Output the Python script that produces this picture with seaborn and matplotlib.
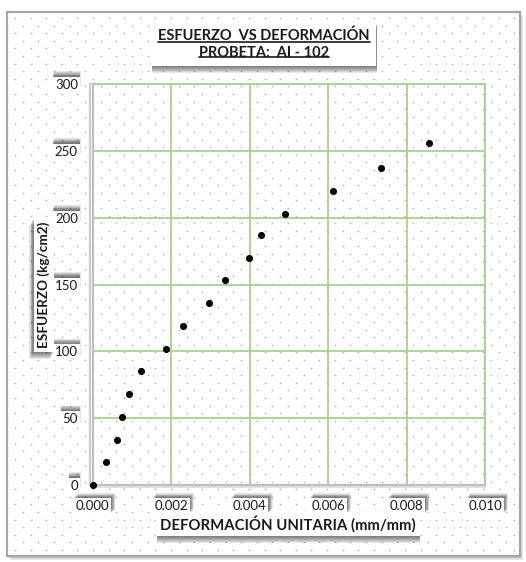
import numpy as np
import pandas as pd
import matplotlib
matplotlib.use("Agg")
import matplotlib.pyplot as plt
import matplotlib.patheffects as pe
from matplotlib.patches import Rectangle
from matplotlib.lines import Line2D
from matplotlib.ticker import MultipleLocator
import seaborn as sns

# Ensayo de compresión - probeta AI-102
deformacion = [0.0, 0.00034, 0.00063, 0.00075, 0.00094, 0.00124, 0.00186, 0.00231,
               0.00296, 0.00338, 0.00399, 0.00430, 0.00491, 0.00613, 0.00735, 0.00858]
esfuerzo = [0, 17, 34, 51, 68, 85, 102, 119, 136, 153, 170, 187, 203, 220, 237, 256]

x_ticks = [0.000, 0.002, 0.004, 0.006, 0.008, 0.010]
y_ticks = [0, 50, 100, 150, 200, 250, 300]

titulo_1 = "ESFUERZO  VS DEFORMACIÓN"
titulo_2 = "PROBETA:  AI - 102"
etiqueta_x = "DEFORMACIÓN UNITARIA (mm/mm)"
etiqueta_y = "ESFUERZO (kg/cm2)"

df = pd.DataFrame({"deformacion": deformacion, "esfuerzo": esfuerzo})

sns.set_theme(style="white")
plt.rcParams["font.family"] = ["Lato", "DejaVu Sans"]

W, H = 526, 562
fig = plt.figure(figsize=(W / 100, H / 100), dpi=100)
fig.patch.set_facecolor("white")


def px(x, y):
    """pixel (top-left origin) -> figure fraction"""
    return x / W, 1 - y / H


def soft_shadow(dx, dy, alpha=0.07, steps=7):
    effects = []
    for i in range(steps):
        effects.append(pe.SimplePatchShadow(offset=(dx * (i + 1) / steps, dy * (i + 1) / steps),
                                            shadow_rgbFace="black", alpha=alpha))
    return effects + [pe.Normal()]


# Chart area with dotted pattern fill
frame_l, frame_t, frame_r, frame_b = 7, 12, 520, 556
bg = fig.add_axes([frame_l / W, 1 - frame_b / H, (frame_r - frame_l) / W, (frame_b - frame_t) / H])
bg.set_xlim(frame_l, frame_r)
bg.set_ylim(frame_b, frame_t)
bg.axis("off")
bg.set_zorder(0)
frame = Rectangle((frame_l, frame_t), frame_r - frame_l, frame_b - frame_t,
                  facecolor="white", edgecolor="#a6a6a6", linewidth=1.6,
                  transform=bg.transData, clip_on=False)
frame.set_path_effects(soft_shadow(2, -3, alpha=0.08, steps=4))
bg.add_patch(frame)
rows = np.arange(frame_t + 6, frame_b - 3, 7.6)
dx_, dy_ = [], []
for i, ry in enumerate(rows):
    start = frame_l + 8 + (7.8 if i % 2 else 0)
    for cx in np.arange(start, frame_r - 3, 15.6):
        dx_.append(cx)
        dy_.append(ry)
bg.scatter(dx_, dy_, s=1.6, color="#b8b8b8", linewidths=0, zorder=1)

# Main plot area
x0, y0 = px(92.5, 485)
x1, y1 = px(485, 84)
ax = fig.add_axes([x0, y0, x1 - x0, y1 - y0])
ax.set_zorder(2)
ax.set_facecolor("none")

green = "#a9d18e"
ax.set_xlim(0, 0.010)
ax.set_ylim(0, 300)
ax.set_xticks(x_ticks)
ax.set_yticks(y_ticks)
ax.xaxis.set_minor_locator(MultipleLocator(0.0004))
ax.grid(True, which="major", color=green, linewidth=1.3)
ax.set_axisbelow(True)

sns.scatterplot(data=df, x="deformacion", y="esfuerzo", ax=ax, color="black",
                s=26, linewidth=0, zorder=5, clip_on=False)

for side in ["top", "right"]:
    ax.spines[side].set_color(green)
    ax.spines[side].set_linewidth(1.3)
for side in ["left", "bottom"]:
    ax.spines[side].set_color("#bfbfbf")
    ax.spines[side].set_linewidth(1.6)
ax.spines["left"].set_path_effects([pe.SimpleLineShadow(offset=(-1.5, 0), shadow_color="black", alpha=0.2),
                                    pe.Normal()])
ax.spines["bottom"].set_path_effects([pe.SimpleLineShadow(offset=(0, -1.5), shadow_color="black", alpha=0.12),
                                      pe.Normal()])

ax.tick_params(axis="both", which="major", direction="out", length=3.5, width=1,
               color="#bfbfbf", labelsize=9.5, labelcolor="#1a1a1a")
ax.tick_params(axis="x", which="minor", direction="inout", length=4, width=0.8, color="#bfbfbf")
ax.tick_params(axis="x", which="major", pad=7)
ax.tick_params(axis="y", which="major", pad=7)
ax.set_xticklabels([f"{v:.3f}" for v in x_ticks])
ax.set_yticklabels([str(v) for v in y_ticks])
ax.set_xlabel("")
ax.set_ylabel("")

for lab in ax.get_xticklabels():
    lab.set_bbox(dict(boxstyle="square,pad=0.15", facecolor="white", edgecolor="none"))
    lab.get_bbox_patch().set_path_effects(soft_shadow(3, 3, alpha=0.09))
for lab in ax.get_yticklabels():
    lab.set_bbox(dict(boxstyle="square,pad=0.15", facecolor="white", edgecolor="none"))
    lab.get_bbox_patch().set_path_effects(soft_shadow(0.5, 4, alpha=0.1))

# Title box
title_fs = 10.5
tx, ty = px(264, 44)
title = fig.text(tx, ty, titulo_1 + "\n" + titulo_2, ha="center", va="center",
                 fontsize=title_fs, fontweight="bold", color="#1a1a1a", linespacing=1.3,
                 zorder=10)
title.set_bbox(dict(boxstyle="square,pad=0.45", facecolor="white", edgecolor="none"))
title.get_bbox_patch().set_path_effects(soft_shadow(0.5, -5, alpha=0.09))

# Axis titles
lx, ly = px(288, 524)
xlab = fig.text(lx, ly, etiqueta_x, ha="center", va="center", fontsize=10.7,
                fontweight="bold", color="#1a1a1a", zorder=10)
xlab.set_bbox(dict(boxstyle="square,pad=0.25", facecolor="white", edgecolor="none"))
xlab.get_bbox_patch().set_path_effects(soft_shadow(0.5, -5, alpha=0.09))

vx, vy = px(44, 285)
ylab = fig.text(vx, vy, etiqueta_y, ha="center", va="center", rotation=90, fontsize=9.7,
                fontweight="bold", color="#1a1a1a", zorder=10)
ylab.set_bbox(dict(boxstyle="square,pad=0.3", facecolor="white", edgecolor="none"))
ylab.get_bbox_patch().set_path_effects(soft_shadow(-3, -5, alpha=0.09))

# Underline each title line
fig.canvas.draw()
renderer = fig.canvas.get_renderer()
bb = title.get_window_extent(renderer)
line_h = bb.height / 2
for k, txt in enumerate([titulo_1, titulo_2]):
    tmp = fig.text(0, 0, txt, fontsize=title_fs, fontweight="bold")
    w = tmp.get_window_extent(renderer).width
    tmp.remove()
    cx = (bb.x0 + bb.x1) / 2
    base = bb.y1 - line_h * (k + 1) + 2.5
    fig.add_artist(Line2D([(cx - w / 2) / W, (cx + w / 2) / W], [base / H, base / H],
                          transform=fig.transFigure, color="#1a1a1a", linewidth=1.2, zorder=11))

fig.savefig("out.png", dpi=100, facecolor="white")
